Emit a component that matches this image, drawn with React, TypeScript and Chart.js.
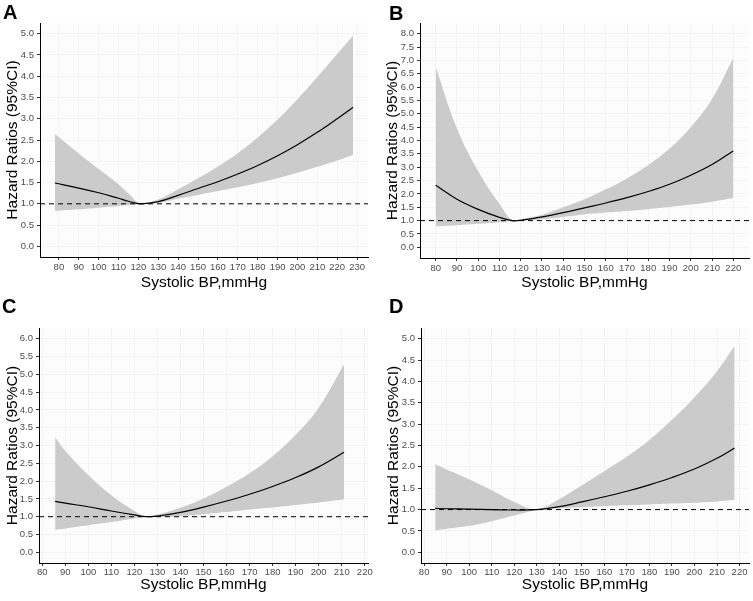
import React, { useEffect, useRef } from "react";
import { Chart, registerables } from "chart.js";

Chart.register(...registerables);

// ---------- text ----------
const yAxisTitle = "Hazard Ratios (95%CI)";
const xAxisTitle = "Systolic BP,mmHg";
const referenceHR = 1;

// ---------- Panel A ----------
const sbpA = [78, 90, 100, 110, 115, 121, 130, 140, 150, 160, 170, 180, 190, 200, 210, 220, 228];
const hrA = [1.49, 1.37, 1.26, 1.13, 1.06, 1.0, 1.05, 1.2, 1.36, 1.52, 1.7, 1.9, 2.13, 2.39, 2.68, 3.0, 3.27];
const upperA = [2.64, 2.18, 1.82, 1.46, 1.24, 1.01, 1.1, 1.34, 1.6, 1.88, 2.19, 2.56, 2.98, 3.46, 3.98, 4.52, 4.96];
const lowerA = [0.83, 0.87, 0.91, 0.95, 0.97, 0.99, 1.02, 1.12, 1.21, 1.3, 1.39, 1.49, 1.6, 1.73, 1.87, 2.02, 2.15];
const xTicksA = [80, 90, 100, 110, 120, 130, 140, 150, 160, 170, 180, 190, 200, 210, 220, 230];
const yTicksA = [0, 0.5, 1, 1.5, 2, 2.5, 3, 3.5, 4, 4.5, 5];
const xRangeA = [70.5, 235.5];
const yRangeA = [-0.25, 5.25];

// ---------- Panel B ----------
const sbpB = [80, 90, 100, 110, 116, 120, 130, 140, 150, 160, 170, 180, 190, 200, 210, 220];
const hrB = [2.32, 1.8, 1.42, 1.12, 1.0, 1.01, 1.14, 1.3, 1.48, 1.66, 1.86, 2.09, 2.36, 2.7, 3.1, 3.61];
const upperB = [6.75, 4.45, 2.85, 1.62, 1.02, 1.05, 1.22, 1.5, 1.8, 2.17, 2.58, 3.08, 3.7, 4.5, 5.55, 7.1];
const lowerB = [0.79, 0.83, 0.88, 0.94, 0.99, 1.0, 1.05, 1.14, 1.23, 1.3, 1.36, 1.43, 1.51, 1.6, 1.71, 1.85];
const xTicksB = [80, 90, 100, 110, 120, 130, 140, 150, 160, 170, 180, 190, 200, 210, 220];
const yTicksB = [0, 0.5, 1, 1.5, 2, 2.5, 3, 3.5, 4, 4.5, 5, 5.5, 6, 6.5, 7, 7.5, 8];
const xRangeB = [72.6, 227.4];
const yRangeB = [-0.4, 8.4];

// ---------- Panel C ----------
const sbpC = [85.6, 90, 100, 110, 120, 125, 130, 140, 150, 160, 170, 180, 190, 200, 211];
const hrC = [1.43, 1.38, 1.28, 1.16, 1.05, 1.0, 1.02, 1.12, 1.27, 1.44, 1.63, 1.85, 2.1, 2.4, 2.81];
const upperC = [3.24, 2.85, 2.17, 1.6, 1.16, 1.0, 1.06, 1.25, 1.51, 1.84, 2.22, 2.7, 3.3, 4.06, 5.28];
const lowerC = [0.63, 0.67, 0.76, 0.85, 0.95, 1.0, 0.99, 1.02, 1.07, 1.13, 1.2, 1.26, 1.33, 1.4, 1.49];
const xTicksC = [80, 90, 100, 110, 120, 130, 140, 150, 160, 170, 180, 190, 200, 210, 220];
const yTicksC = [0, 0.5, 1, 1.5, 2, 2.5, 3, 3.5, 4, 4.5, 5, 5.5, 6];
const xRangeC = [78.6, 221.4];
const yRangeC = [-0.3, 6.3];

// ---------- Panel D ----------
const sbpD = [84.9, 90, 100, 110, 120, 130, 140, 150, 160, 170, 180, 190, 200, 210, 217.8];
const hrD = [1.03, 1.02, 1.01, 1.0, 0.99, 1.0, 1.07, 1.18, 1.3, 1.43, 1.58, 1.75, 1.95, 2.2, 2.44];
const upperD = [2.06, 1.94, 1.71, 1.45, 1.18, 1.01, 1.25, 1.57, 1.9, 2.24, 2.63, 3.1, 3.63, 4.24, 4.83];
const lowerD = [0.51, 0.55, 0.62, 0.73, 0.86, 0.99, 1.03, 1.06, 1.08, 1.1, 1.12, 1.14, 1.16, 1.19, 1.23];
const xTicksD = [80, 90, 100, 110, 120, 130, 140, 150, 160, 170, 180, 190, 200, 210, 220];
const yTicksD = [0, 0.5, 1, 1.5, 2, 2.5, 3, 3.5, 4, 4.5, 5];
const xRangeD = [78.6, 224.2];
const yRangeD = [-0.25, 5.25];

type Panel = {
  letter: string;
  sbp: number[];
  hr: number[];
  upper: number[];
  lower: number[];
  xTicks: number[];
  yTicks: number[];
  xRange: number[];
  yRange: number[];
};

type Frame = {
  left: number;
  top: number;
  width: number;
  height: number;
  areaLeft: number;
  areaRight: number;
  areaTop: number;
  areaBottom: number;
  letterX: number;
  letterY: number;
  yTitlePad: number;
  xTitlePad: number;
  xTickPad: number;
};

const panels: Panel[] = [
  { letter: "A", sbp: sbpA, hr: hrA, upper: upperA, lower: lowerA, xTicks: xTicksA, yTicks: yTicksA, xRange: xRangeA, yRange: yRangeA },
  { letter: "B", sbp: sbpB, hr: hrB, upper: upperB, lower: lowerB, xTicks: xTicksB, yTicks: yTicksB, xRange: xRangeB, yRange: yRangeB },
  { letter: "C", sbp: sbpC, hr: hrC, upper: upperC, lower: lowerC, xTicks: xTicksC, yTicks: yTicksC, xRange: xRangeC, yRange: yRangeC },
  { letter: "D", sbp: sbpD, hr: hrD, upper: upperD, lower: lowerD, xTicks: xTicksD, yTicks: yTicksD, xRange: xRangeD, yRange: yRangeD },
];

const frames: Frame[] = [
  { left: 0, top: 0, width: 376, height: 300, areaLeft: 40, areaRight: 368, areaTop: 23, areaBottom: 257, letterX: 3, letterY: 19, yTitlePad: 3, xTitlePad: 8, xTickPad: 2 },
  { left: 376, top: 0, width: 377, height: 300, areaLeft: 44, areaRight: 373, areaTop: 23, areaBottom: 258, letterX: 13, letterY: 20, yTitlePad: 7.5, xTitlePad: 8, xTickPad: 2 },
  { left: 0, top: 290, width: 376, height: 311, areaLeft: 39, areaRight: 368, areaTop: 38, areaBottom: 273, letterX: 2, letterY: 23, yTitlePad: 3, xTitlePad: 6.5, xTickPad: 1 },
  { left: 376, top: 290, width: 377, height: 311, areaLeft: 45, areaRight: 373, areaTop: 38, areaBottom: 273, letterX: 13, letterY: 23, yTitlePad: 8, xTitlePad: 6.5, xTickPad: 1 },
];

const FONT = '"Liberation Sans", Arial, Helvetica, sans-serif';

function toPoints(xs: number[], ys: number[]) {
  return xs.map((x, i) => ({ x, y: ys[i] }));
}

function PanelChart({ panel, frame }: { panel: Panel; frame: Frame }) {
  const ref = useRef<HTMLCanvasElement | null>(null);

  useEffect(() => {
    if (!ref.current) return;

    const backgroundPlugin = {
      id: "panelBg",
      beforeDraw(chart: any) {
        const { ctx, chartArea } = chart;
        ctx.save();
        ctx.fillStyle = "#fcfcfc";
        ctx.fillRect(chartArea.left, chartArea.top, chartArea.right - chartArea.left, chartArea.bottom - chartArea.top);
        ctx.restore();
      },
    };

    const letterPlugin = {
      id: "panelLetter",
      afterDraw(chart: any) {
        const ctx = chart.ctx;
        ctx.save();
        ctx.font = `bold 20px ${FONT}`;
        ctx.fillStyle = "#000";
        ctx.textBaseline = "alphabetic";
        ctx.textAlign = "left";
        ctx.fillText(panel.letter, frame.letterX, frame.letterY);
        ctx.restore();
      },
    };

    const smooth = { tension: 0.4, cubicInterpolationMode: "default" };

    const chart = new Chart(ref.current, {
      type: "line",
      data: {
        datasets: [
          {
            label: "HR",
            data: toPoints(panel.sbp, panel.hr),
            borderColor: "#000000",
            borderWidth: 1.2,
            pointRadius: 0,
            fill: false,
            ...smooth,
            order: 0,
          },
          {
            label: "ref",
            data: toPoints(panel.xRange, [referenceHR, referenceHR]),
            borderColor: "#000000",
            borderWidth: 1,
            borderDash: [5, 4],
            pointRadius: 0,
            fill: false,
            tension: 0,
            order: 1,
          },
          {
            label: "upper",
            data: toPoints(panel.sbp, panel.upper),
            borderColor: "rgba(0,0,0,0)",
            borderWidth: 0,
            backgroundColor: "#cbcbcb",
            pointRadius: 0,
            fill: "+1",
            ...smooth,
            order: 2,
          },
          {
            label: "lower",
            data: toPoints(panel.sbp, panel.lower),
            borderColor: "rgba(0,0,0,0)",
            borderWidth: 0,
            pointRadius: 0,
            fill: false,
            ...smooth,
            order: 3,
          },
        ],
      },
      options: {
        responsive: false,
        animation: false,
        events: [],
        layout: {
          padding: {
            left: 0,
            top: frame.areaTop,
            right: frame.width - frame.areaRight,
            bottom: 0,
          },
        },
        plugins: {
          legend: { display: false },
          tooltip: { enabled: false },
          title: { display: false },
        },
        scales: {
          x: {
            type: "linear",
            min: panel.xRange[0],
            max: panel.xRange[1],
            afterBuildTicks(scale: any) {
              scale.ticks = panel.xTicks.map((v) => ({ value: v }));
            },
            afterFit(scale: any) {
              scale.height = frame.height - frame.areaBottom;
            },
            ticks: {
              autoSkip: false,
              maxRotation: 0,
              minRotation: 0,
              padding: frame.xTickPad,
              color: "#4d4d4d",
              font: { family: FONT, size: 9.5 },
              callback: (v: any) => String(v),
            },
            grid: {
              color: "#f4f4f4",
              lineWidth: 1,
              drawTicks: true,
              tickLength: 3,
              tickColor: "#333333",
              tickWidth: 1,
            },
            border: { display: true, color: "#000000", width: 1 },
            title: {
              display: true,
              text: xAxisTitle,
              color: "#000000",
              font: { family: FONT, size: 15.5 },
              padding: { top: 0, bottom: frame.xTitlePad },
            },
          },
          y: {
            type: "linear",
            min: panel.yRange[0],
            max: panel.yRange[1],
            afterBuildTicks(scale: any) {
              scale.ticks = panel.yTicks.map((v) => ({ value: v }));
            },
            afterFit(scale: any) {
              scale.width = frame.areaLeft;
            },
            ticks: {
              autoSkip: false,
              padding: 3,
              color: "#4d4d4d",
              font: { family: FONT, size: 9.5 },
              callback: (v: any) => Number(v).toFixed(1),
            },
            grid: {
              color: "#f4f4f4",
              lineWidth: 1,
              drawTicks: true,
              tickLength: 3,
              tickColor: "#333333",
              tickWidth: 1,
            },
            border: { display: true, color: "#000000", width: 1 },
            title: {
              display: true,
              text: yAxisTitle,
              color: "#000000",
              font: { family: FONT, size: 15.5 },
              padding: { top: frame.yTitlePad, bottom: 0 },
            },
          },
        },
      } as any,
      plugins: [backgroundPlugin, letterPlugin],
    });

    return () => chart.destroy();
  }, [panel, frame]);

  return (
    <div
      style={{
        position: "absolute",
        left: frame.left,
        top: frame.top,
        width: frame.width,
        height: frame.height,
      }}
    >
      <canvas ref={ref} width={frame.width} height={frame.height} style={{ display: "block" }} />
    </div>
  );
}

export default function App() {
  return (
    <div
      style={{
        position: "fixed",
        left: 0,
        top: 0,
        width: 753,
        height: 601,
        background: "#ffffff",
        overflow: "hidden",
      }}
    >
      {panels.map((p, i) => (
        <PanelChart key={p.letter} panel={p} frame={frames[i]} />
      ))}
    </div>
  );
}
